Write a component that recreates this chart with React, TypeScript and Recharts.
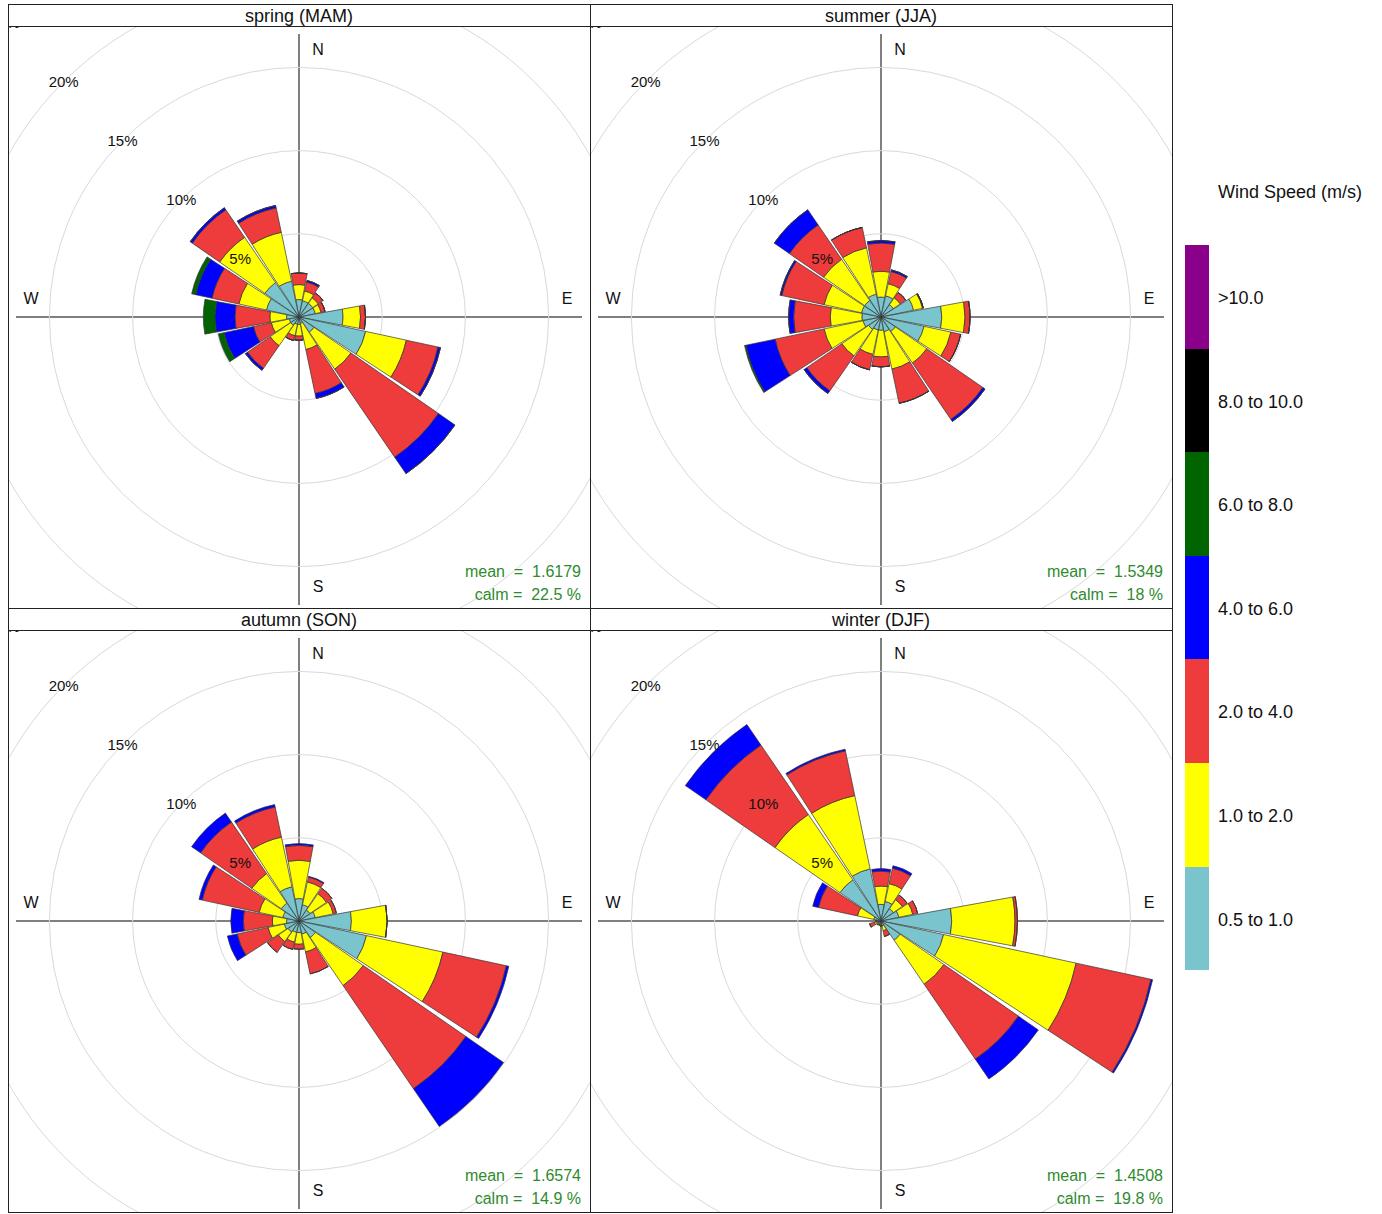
import React from "react";
import { RadialBarChart, RadialBar, PolarGrid, PolarAngleAxis, PolarRadiusAxis } from "recharts";

// 16 wind directions, clockwise from north
const directions = ["N", "NNE", "NE", "ENE", "E", "ESE", "SE", "SSE", "S", "SSW", "SW", "WSW", "W", "WNW", "NW", "NNW"];
const speedBins = ["0.5 to 1.0", "1.0 to 2.0", "2.0 to 4.0", "4.0 to 6.0", "6.0 to 8.0", "8.0 to 10.0", ">10.0"];
const binColors = ["#7AC5CD", "#FFFF00", "#EE3B3B", "#0000FF", "#006400", "#000000", "#8B008B"];
const pctTicks = [5, 10, 15, 20, 25];

// percentage of hours per direction, one row per speed bin (cyan, yellow, red, blue, green)
const springPct = [
  [1.05, 1.0, 1.0, 1.0, 2.65, 4.1, 1.1, 0.4, 0.45, 0.45, 0.6, 0.6, 0.75, 2.0, 2.5, 2.2],
  [0.9, 0.6, 0.4, 0.35, 1.05, 2.5, 2.7, 1.6, 0.7, 0.7, 1.5, 1.1, 1.0, 1.7, 3.3, 3.0],
  [0.7, 0.55, 0.35, 0.25, 0.3, 1.95, 6.4, 2.7, 0.25, 0.3, 1.65, 1.1, 2.1, 1.65, 2.0, 1.5],
  [0, 0.1, 0, 0, 0, 0.15, 1.2, 0.3, 0, 0, 0.15, 1.8, 1.2, 1.0, 0.15, 0.15],
  [0, 0, 0, 0, 0, 0, 0, 0, 0, 0, 0, 0.35, 0.7, 0.25, 0, 0],
];
const summerPct = [
  [1.2, 1.3, 0.9, 2.0, 3.65, 2.65, 1.05, 0.9, 0.8, 0.8, 0.9, 1.1, 1.15, 1.2, 1.2, 1.4],
  [1.55, 0.75, 0.5, 0.55, 1.4, 1.65, 2.3, 2.3, 1.6, 1.5, 1.95, 2.4, 1.9, 2.3, 3.0, 2.85],
  [1.7, 0.75, 0.4, 0.05, 0.3, 0.6, 4.1, 2.1, 0.6, 0.95, 2.55, 3.0, 2.2, 2.6, 2.5, 1.25],
  [0.15, 0.1, 0, 0, 0, 0, 0.15, 0, 0, 0, 0.2, 1.8, 0.3, 0.1, 1.1, 0],
  [0, 0, 0, 0, 0, 0, 0, 0, 0, 0, 0, 0.08, 0, 0, 0, 0],
];
const autumnPct = [
  [1.35, 1.0, 0.8, 1.0, 3.15, 4.15, 1.2, 0.8, 0.7, 0.7, 0.8, 0.9, 0.75, 1.0, 1.3, 2.1],
  [2.3, 1.4, 1.2, 1.1, 2.15, 4.7, 3.5, 1.1, 0.7, 0.6, 0.7, 1.0, 0.85, 1.45, 2.15, 3.05],
  [0.9, 0.3, 0.4, 0.2, 0, 3.9, 7.5, 1.35, 0.3, 0.45, 0.8, 1.9, 1.75, 3.5, 3.75, 1.85],
  [0.1, 0.05, 0, 0, 0, 0.15, 2.75, 0, 0, 0, 0, 0.6, 0.75, 0.2, 0.65, 0.15],
];
const winterPct = [
  [1.0, 1.2, 0.9, 1.1, 4.25, 3.85, 1.4, 0.3, 0.2, 0.15, 0.2, 0.25, 0.2, 0.45, 3.0, 3.2],
  [1.1, 1.1, 0.65, 0.85, 3.8, 8.15, 3.2, 0.3, 0.1, 0.1, 0.1, 0.15, 0.1, 1.0, 4.75, 4.5],
  [0.9, 0.95, 0.35, 0.3, 0.15, 4.6, 5.45, 0.35, 0, 0, 0, 0.3, 0, 2.4, 5.05, 2.75],
  [0.15, 0.15, 0, 0, 0, 0.1, 1.45, 0, 0, 0, 0, 0, 0, 0.35, 1.5, 0.1],
];

const seasons = ["spring (MAM)", "summer (JJA)", "autumn (SON)", "winter (DJF)"];
const seasonPct = [springPct, summerPct, autumnPct, winterPct];
const means = ["1.6179", "1.5349", "1.6574", "1.4508"];
const calms = ["22.5", "18", "14.9", "19.8"];

const FONT = "'Liberation Sans', Arial, Helvetica, sans-serif";
const SIZE = 582;
const C = 291;

const pctTick = (props: any) => (
  <text x={props.x} y={props.y} textAnchor="middle" dominantBaseline="central" fontSize={15} fill="#111" fontFamily={FONT}>
    {props.payload.value}%
  </text>
);

function Compass() {
  const lab = { fontSize: 16, fill: "#111", fontFamily: FONT, textAnchor: "middle" as const, dominantBaseline: "central" as const };
  return (
    <svg width={SIZE} height={SIZE} style={{ position: "absolute", left: 0, top: 0 }}>
      <line x1={C} y1={C - 283} x2={C} y2={C + 288} stroke="#000" strokeWidth={1} />
      <line x1={C - 283} y1={C} x2={C + 283} y2={C} stroke="#000" strokeWidth={1} />
      <text x={C + 19} y={C - 268} {...lab}>N</text>
      <text x={C + 268} y={C - 19} {...lab}>E</text>
      <text x={C + 19} y={C + 269} {...lab}>S</text>
      <text x={C - 268} y={C - 19} {...lab}>W</text>
    </svg>
  );
}

function WindPanel({ idx, left, top }: { idx: number; left: number; top: number }) {
  const pct = seasonPct[idx];
  const data = directions.map((d, i) => {
    const row: Record<string, any> = { dir: d };
    pct.forEach((arr, b) => (row["b" + b] = arr[i]));
    return row;
  });
  return (
    <div style={{ position: "absolute", left, top, width: SIZE, height: SIZE + 22 }}>
      <div style={{ height: 22, lineHeight: "24px", textAlign: "center", fontSize: 18, color: "#111" }}>{seasons[idx]}</div>
      <div style={{ position: "relative", width: SIZE, height: SIZE }}>
        <Compass />
        <div style={{ position: "absolute", left: 0, top: 0 }}>
          <RadialBarChart
            width={SIZE}
            height={SIZE}
            data={data}
            layout="centric"
            cx={C}
            cy={C}
            innerRadius={0}
            outerRadius={416}
            startAngle={78.75}
            endAngle={-281.25}
            barCategoryGap="2.5%"
            margin={{ top: 0, right: 0, bottom: 0, left: 0 }}
          >
            <PolarGrid gridType="circle" radialLines={false} stroke="#d9d9d9" />
            <PolarAngleAxis type="category" dataKey="dir" tick={false} axisLine={false} />
            {pct.map((_, b) => (
              <RadialBar
                key={b}
                dataKey={"b" + b}
                name={speedBins[b]}
                stackId="ws"
                fill={binColors[b]}
                stroke="#333"
                strokeWidth={0.7}
                isAnimationActive={false}
              />
            ))}
            <PolarRadiusAxis type="number" domain={[0, 25]} ticks={pctTicks} angle={135} axisLine={false} tick={pctTick} />
          </RadialBarChart>
        </div>
        <div style={{ position: "absolute", right: 9, top: 534, textAlign: "right", fontSize: 16, lineHeight: "23px", color: "#2E8B2E", whiteSpace: "pre" }}>
          {"mean  =  " + means[idx]}
          <br />
          {"calm =  " + calms[idx] + " %"}
        </div>
      </div>
    </div>
  );
}

function SpeedKey() {
  const order = [6, 5, 4, 3, 2, 1, 0];
  return (
    <div style={{ position: "absolute", left: 1185, top: 180, width: 190 }}>
      <div style={{ position: "absolute", left: 33, top: 2, fontSize: 18, whiteSpace: "nowrap", color: "#111" }}>Wind Speed (m/s)</div>
      {order.map((b, i) => (
        <div key={b}>
          <div style={{ position: "absolute", left: 0, top: 65 + i * 103.6, width: 24, height: 103.6, background: binColors[b] }} />
          <div style={{ position: "absolute", left: 33, top: 65 + i * 103.6 + 43, fontSize: 18, whiteSpace: "nowrap", color: "#111" }}>{speedBins[b]}</div>
        </div>
      ))}
    </div>
  );
}

export default function App() {
  return (
    <div style={{ position: "absolute", left: 0, top: 0, width: 1382, height: 1214, background: "#fff", fontFamily: FONT }}>
      <WindPanel idx={0} left={8} top={4} />
      <WindPanel idx={1} left={590} top={4} />
      <WindPanel idx={2} left={8} top={608} />
      <WindPanel idx={3} left={590} top={608} />
      <SpeedKey />
      <svg width={1382} height={1214} style={{ position: "absolute", left: 0, top: 0, pointerEvents: "none" }}>
        <rect x={8.5} y={4.5} width={1164} height={1208} fill="none" stroke="#222" strokeWidth={1} />
        <line x1={590.5} y1={4} x2={590.5} y2={1213} stroke="#222" />
        <line x1={8} y1={26.5} x2={1173} y2={26.5} stroke="#222" />
        <line x1={8} y1={608.5} x2={1173} y2={608.5} stroke="#222" />
        <line x1={8} y1={630.5} x2={1173} y2={630.5} stroke="#222" />
      </svg>
    </div>
  );
}
